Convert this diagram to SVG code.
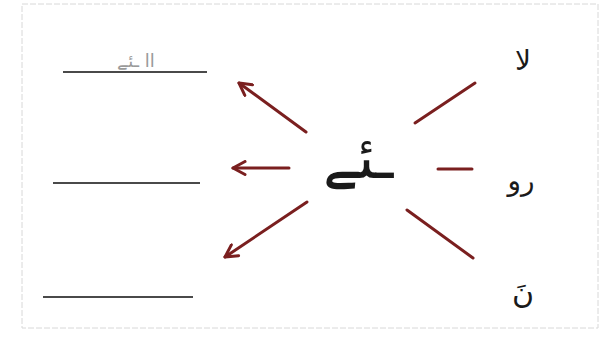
<svg xmlns="http://www.w3.org/2000/svg" width="604" height="340" viewBox="0 0 604 340">
<style>
.blank{stroke:#4a4a4a;stroke-width:2.2;fill:none}
.arr{stroke:#7a1f1f;stroke-width:3;fill:none;stroke-linecap:round}
.ln{stroke:#7a1f1f;stroke-width:3;fill:none;stroke-linecap:round}
.ur{font-family:"DejaVu Sans","Noto Sans",sans-serif;fill:#1a1a1a}
</style>
<defs>
<marker id="ah" viewBox="0 0 16 16" refX="14" refY="8" markerWidth="16" markerHeight="16" orient="auto" markerUnits="userSpaceOnUse">
<path d="M2,1.5 L14,8 L2,14.5" fill="none" stroke="#7a1f1f" stroke-width="3" stroke-linecap="round" stroke-linejoin="round"/>
</marker>
</defs>
<rect x="0" y="0" width="604" height="340" fill="#ffffff"/>
<rect x="22" y="4" width="576" height="324" fill="none" stroke="#d8d8d8" stroke-width="1" stroke-dasharray="6 2"/>
<g id="center">
<text x="358" y="178" class="ur" font-size="60" text-anchor="middle" direction="rtl">ـئے</text>
</g>
<g id="word-la">
<text x="523" y="70" class="ur" font-size="28" text-anchor="middle" direction="rtl">لا</text>
</g>
<g id="word-ro">
<text x="521" y="190" class="ur" font-size="28" text-anchor="middle" direction="rtl">رو</text>
</g>
<g id="word-na">
<text x="523" y="303" class="ur" font-size="30" text-anchor="middle" direction="rtl">نَ</text>
</g>
<g id="answer1">
<line x1="63" y1="72" x2="207" y2="72" class="blank"/>
<text x="136" y="67" class="ur" font-size="18" style="fill:#9a9a9a" text-anchor="middle" direction="rtl">اا ـئے</text>
</g>
<g id="answer2">
<line x1="53" y1="183" x2="200" y2="183" class="blank"/>
</g>
<g id="answer3">
<line x1="43" y1="297" x2="193" y2="297" class="blank"/>
</g>
<g id="connectors">
<line x1="306" y1="132" x2="239" y2="83" class="arr" marker-end="url(#ah)"/>
<line x1="289" y1="168" x2="233" y2="168" class="arr" marker-end="url(#ah)"/>
<line x1="307" y1="202" x2="225" y2="257" class="arr" marker-end="url(#ah)"/>
<line x1="415" y1="123" x2="475" y2="83" class="ln"/>
<line x1="438" y1="169" x2="472" y2="169" class="ln"/>
<line x1="407" y1="210" x2="473" y2="258" class="ln"/>
</g>
</svg>
